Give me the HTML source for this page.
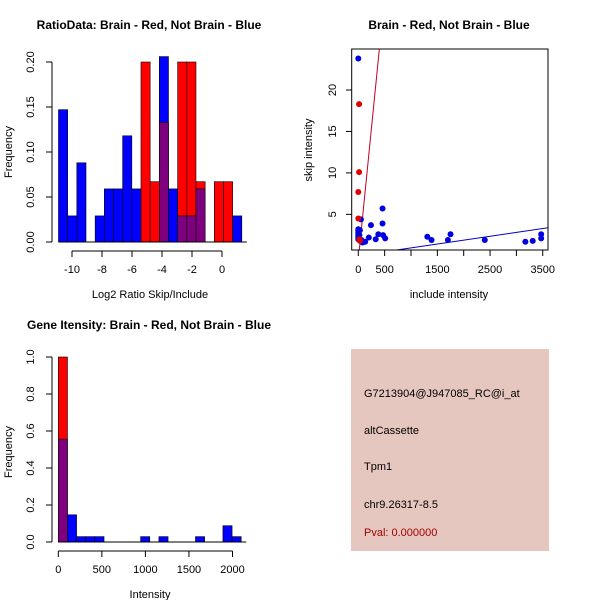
<!DOCTYPE html>
<html><head><meta charset="utf-8"><style>
body{margin:0;background:#fff}
svg{display:block;font-family:"Liberation Sans",sans-serif}
</style></head><body>
<svg id="c" width="600" height="600" viewBox="0 0 600 600">
<rect width="600" height="600" fill="#fff"/>
<text x="149" y="29" font-size="12" font-weight="bold" text-anchor="middle">RatioData: Brain - Red, Not Brain - Blue</text>
<text x="449" y="29" font-size="12" font-weight="bold" text-anchor="middle">Brain - Red, Not Brain - Blue</text>
<text x="149" y="329" font-size="12" font-weight="bold" text-anchor="middle">Gene Itensity: Brain - Red, Not Brain - Blue</text>
<text x="150" y="298" font-size="11" text-anchor="middle">Log2 Ratio Skip/Include</text>
<text transform="translate(12,152) rotate(-90)" font-size="11" text-anchor="middle">Frequency</text>
<text x="449" y="298" font-size="11" text-anchor="middle">include intensity</text>
<text transform="translate(312,150) rotate(-90)" font-size="11" text-anchor="middle">skip intensity</text>
<text x="150" y="598" font-size="11" text-anchor="middle">Intensity</text>
<text transform="translate(12,452) rotate(-90)" font-size="11" text-anchor="middle">Frequency</text>
<g>
<rect x="351" y="349" width="198" height="202" fill="#e6c7c0"/>
<text x="364" y="397" font-size="11">G7213904@J947085_RC@i_at</text>
<text x="364" y="434" font-size="11">altCassette</text>
<text x="364" y="470" font-size="11">Tpm1</text>
<text x="364" y="508" font-size="11">chr9.26317-8.5</text>
<text x="364" y="536" font-size="11" fill="#a00000">Pval: 0.000000</text>
</g>
</svg>
<script>
// Panel 1: ratio histogram
const ratioStart = -10.9, ratioWidth = 0.611;
const ratioBlue = [0.147,0.029,0.088,0,0.029,0.059,0.059,0.118,0.059,0,0,0.206,0.059,0.029,0.029,0.059,0,0,0,0.029];
const ratioRed  = [0,0,0,0,0,0,0,0,0,0.2,0.067,0.133,0,0.2,0.2,0.067,0,0.067,0.067,0];
const ratioXTicks = [-10,-8,-6,-4,-2,0];
const ratioYTicks = ["0.00","0.05","0.10","0.15","0.20"];
// Panel 3: intensity histogram
const intStart = 0, intWidth = 105;
const intBlue = [0.556,0.147,0.029,0.029,0.029,0,0,0,0,0.029,0,0.029,0,0,0,0.029,0,0,0.088,0.029];
const intRed  = [1.0,0,0,0,0,0,0,0,0,0,0,0,0,0,0,0,0,0,0,0];
const intXTicks = [0,500,1000,1500,2000];
const intYTicks = ["0.0","0.2","0.4","0.6","0.8","1.0"];
// Panel 2: scatter
const blueX = [0,0,0,0,0,0,0,10,20,30,50,60,80,100,130,200,240,330,380,460,460,470,510,1310,1390,1700,1750,2400,3170,3310,3470,3470,0];
const blueY = [3.2,3.0,2.8,2.6,2.4,2.2,2.0,2.9,2.5,3.1,4.4,1.9,1.6,1.7,1.7,2.2,3.7,2.0,2.6,5.7,3.9,2.5,2.1,2.3,1.9,1.9,2.6,1.9,1.7,1.8,2.6,2.1,23.8];
const redX = [15,15,0,0,20,30];
const redY = [18.3,10.1,7.7,4.5,2.0,1.8];
const blueFit = [0.017, 0.000937];
const redFit = [-0.5, 0.0637];
const scXTicks = [0,500,1000,1500,2000,2500,3000,3500];
const scXLabels = ["0","500","","1500","","2500","","3500"];
const scYTicks = [5,10,15,20];

const NS="http://www.w3.org/2000/svg", svg=document.getElementById('c');
function mk(t,a,p){const e=document.createElementNS(NS,t);for(const k in a)e.setAttribute(k,a[k]);(p||svg).appendChild(e);return e;}
function grp(name){const g=mk('g',{});return g;}

function hist(prefix,start,w,blue,red,xs,ys,xT,yT,yTickVals){
  const g=grp(prefix+'-bars');
  for(let i=0;i<blue.length;i++){
    const x0=xs(start+i*w), x1=xs(start+(i+1)*w), b=blue[i], r=red[i], lo=Math.min(b,r), hi=Math.max(b,r);
    if(hi<=0) continue;
    const topCol=b>r?'#0000ff':'#ff0000';
    const e=mk('rect',{x:x0,y:ys(hi),width:x1-x0,height:ys(0)-ys(hi),fill:topCol,stroke:'#000','stroke-width':0.6},g);
    
    
    if(lo>0){
      const o=mk('rect',{x:x0,y:ys(lo),width:x1-x0,height:ys(0)-ys(lo),fill:'#7f007f',stroke:'#000','stroke-width':0.6},g);
      
      
    }
  }
  const ax=grp(prefix+'-axes');
  const yb=ys(0);
  mk('line',{x1:xs(start),x2:xs(start+blue.length*w)+5,y1:yb,y2:yb,stroke:'#000'},ax);
  const yv=yTickVals.map(Number);
  mk('line',{x1:52,x2:52,y1:ys(yv[0]),y2:ys(yv[yv.length-1]),stroke:'#000'},ax);
  yv.forEach((v,i)=>{mk('line',{x1:46,x2:52,y1:ys(v),y2:ys(v),stroke:'#000'},ax);
    const t=mk('text',{transform:`translate(34,${ys(v)}) rotate(-90)`,'font-size':11,'text-anchor':'middle'},ax);t.textContent=yTickVals[i];});
  const ay=yb+9;
  mk('line',{x1:xs(xT[0]),x2:xs(xT[xT.length-1]),y1:ay,y2:ay,stroke:'#000'},ax);
  xT.forEach(v=>{mk('line',{x1:xs(v),x2:xs(v),y1:ay,y2:ay+6,stroke:'#000'},ax);
    const t=mk('text',{x:xs(v),y:ay+22,'font-size':11,'text-anchor':'middle'},ax);t.textContent=v;});
}
hist('ratio',ratioStart,ratioWidth,ratioBlue,ratioRed,v=>222+15*v,v=>242-900*v,ratioXTicks,null,ratioYTicks);
hist('intensity',intStart,intWidth,intBlue,intRed,v=>58.3+0.0871*v,v=>542-185*v,intXTicks,null,intYTicks);

// scatter
const sx=v=>358.3+0.0527*v, sy=v=>255.8-8.29*v;
const sg=grp('scatter-plot');
const cp=mk('clipPath',{id:'clp'},sg);mk('rect',{x:351.7,y:49,width:196.3,height:201},cp);
const pg=mk('g',{'clip-path':'url(#clp)'},sg);
function fit(f,col,name){const x0=0,x1=3700;const l=mk('line',{x1:sx(x0),y1:sy(f[0]+f[1]*x0),x2:sx(x1),y2:sy(f[0]+f[1]*x1),stroke:col,'stroke-width':1},pg);
  
  }
fit(blueFit,'#0000c0','blue-fit-line');
fit(redFit,'#c00020','red-fit-line');
blueX.forEach((x,i)=>{const c=mk('circle',{cx:sx(x),cy:sy(blueY[i]),r:3,fill:'#0000e0'},pg);
  
  });
redX.forEach((x,i)=>{const c=mk('circle',{cx:sx(x),cy:sy(redY[i]),r:3,fill:'#e00000'},pg);
  
  });
mk('rect',{x:351.7,y:49,width:196.3,height:201,fill:'none',stroke:'#000'},sg);
scXTicks.forEach((v,i)=>{mk('line',{x1:sx(v),x2:sx(v),y1:250,y2:256,stroke:'#000'},sg);
  const t=mk('text',{x:sx(v),y:273,'font-size':11,'text-anchor':'middle'},sg);t.textContent=scXLabels[i];});
scYTicks.forEach(v=>{mk('line',{x1:346,x2:351.7,y1:sy(v),y2:sy(v),stroke:'#000'},sg);
  const t=mk('text',{transform:`translate(336,${sy(v)}) rotate(-90)`,'font-size':11,'text-anchor':'middle'},sg);t.textContent=v;});
</script>
</body></html>
